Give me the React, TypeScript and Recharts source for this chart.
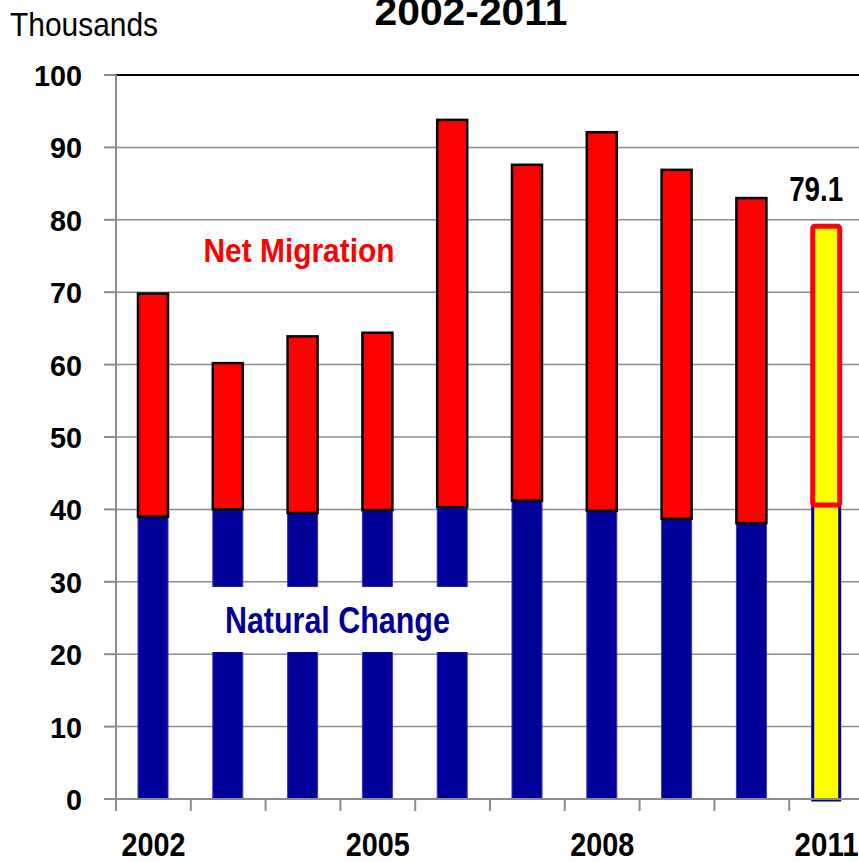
import React from 'react';
import {
  BarChart,
  Bar,
  XAxis,
  YAxis,
  CartesianGrid,
  ReferenceLine,
  ReferenceArea,
  LabelList,
} from 'recharts';

const years = ['2002', '2003', '2004', '2005', '2006', '2007', '2008', '2009', '2010', '2011'];
const naturalChange = [39.0, 40.0, 39.5, 39.9, 40.3, 41.2, 39.8, 38.7, 38.1, 40.6];
const totalGrowth = [69.8, 60.2, 63.9, 64.4, 93.8, 87.6, 92.1, 86.9, 83.0, 79.1];
const yTicks = [0, 10, 20, 30, 40, 50, 60, 70, 80, 90, 100];
const xTickLabels = ['2002', '2005', '2008', '2011'];
const titleText = '2002-2011';
const unitText = 'Thousands';
const migrationLabel = 'Net Migration';
const naturalLabel = 'Natural Change';

const data = years.map((year, i) => ({
  year,
  natural: naturalChange[i],
  migration: +(totalGrowth[i] - naturalChange[i]).toFixed(1),
  total: totalGrowth[i],
}));

const FONT = '"Liberation Sans", Arial, sans-serif';
const RED = '#FF0000';
const BLUE = '#000099';
const BLUE_EDGE = '#3333bb';
const YELLOW = '#FFFF00';
const GRID = '#8c8c8c';

const CHART_W = 880;
const CHART_H = 862;
const MARGIN = { top: 75, right: 16, bottom: 0, left: 0 };
const Y_AXIS_W = 116;
const X_AXIS_H = 63;
const PLOT_W = CHART_W - MARGIN.left - MARGIN.right - Y_AXIS_W;
const HALF_BAND = PLOT_W / years.length / 2;
const LAST = years.length - 1;

const YTick = (props: any) => {
  const { y, payload } = props;
  const s = String(payload.value);
  return (
    <text
      x={82}
      y={y + 11}
      textAnchor="end"
      fontFamily={FONT}
      fontWeight="bold"
      fontSize={29}
      fill="#000"
      textLength={s.length * 16}
      lengthAdjust="spacingAndGlyphs"
    >
      {s}
    </text>
  );
};

const XTick = (props: any) => {
  const { x, y, payload } = props;
  const s = String(payload.value);
  const show = xTickLabels.includes(s);
  return (
    <g>
      <line x1={x - HALF_BAND} x2={x - HALF_BAND} y1={y} y2={y + 12} stroke={GRID} strokeWidth={2} />
      {show && (
        <text
          x={x}
          y={y + 57}
          textAnchor="middle"
          fontFamily={FONT}
          fontWeight="bold"
          fontSize={33}
          fill="#000"
          textLength={64}
          lengthAdjust="spacingAndGlyphs"
        >
          {s}
        </text>
      )}
    </g>
  );
};

const NaturalShape = (props: any) => {
  const { x, y, width, height, index } = props;
  if (index === LAST) {
    return (
      <rect
        x={x + 1.5}
        y={y}
        width={width - 3}
        height={height + 1}
        fill={YELLOW}
        stroke={BLUE}
        strokeWidth={3}
      />
    );
  }
  return <rect x={x} y={y} width={width} height={height} fill={BLUE} stroke={BLUE_EDGE} strokeWidth={1} />;
};

const MigrationShape = (props: any) => {
  const { x, y, width, height, index } = props;
  if (index === LAST) {
    return (
      <rect
        x={x + 1.5}
        y={y}
        width={width - 3}
        height={height}
        rx={2}
        fill={YELLOW}
        stroke={RED}
        strokeWidth={5}
        strokeLinejoin="round"
      />
    );
  }
  return <rect x={x} y={y} width={width} height={height} fill={RED} stroke="#000" strokeWidth={2.5} />;
};

const NaturalBox = (props: any) => {
  const { x, y, width, height } = props;
  return (
    <g>
      <rect x={x} y={y} width={width} height={height} fill="#fff" />
      <text
        x={x + width / 2 - 3}
        y={y + 46}
        textAnchor="middle"
        fontFamily={FONT}
        fontWeight="bold"
        fontSize={36}
        fill={BLUE}
        textLength={225}
        lengthAdjust="spacingAndGlyphs"
      >
        {naturalLabel}
      </text>
    </g>
  );
};

const MigrationText = (props: any) => {
  const { x, y, width, height } = props;
  return (
    <text
      x={x + width / 2 - 4}
      y={y + height / 2 + 12}
      textAnchor="middle"
      fontFamily={FONT}
      fontWeight="bold"
      fontSize={33}
      fill={RED}
      textLength={191}
      lengthAdjust="spacingAndGlyphs"
    >
      {migrationLabel}
    </text>
  );
};

const TotalLabel = (props: any) => {
  const { x, y, width, index, value } = props;
  if (index !== LAST) return null;
  const s = Number(value).toFixed(1);
  return (
    <text
      x={x + width / 2 - 10}
      y={y - 25}
      textAnchor="middle"
      fontFamily={FONT}
      fontWeight="bold"
      fontSize={35}
      fill="#000"
      textLength={54}
      lengthAdjust="spacingAndGlyphs"
    >
      {s}
    </text>
  );
};

export default function App() {
  return (
    <div
      style={{
        position: 'absolute',
        left: 0,
        top: 0,
        width: 859,
        height: 862,
        overflow: 'hidden',
        background: '#fff',
      }}
    >
      <BarChart width={CHART_W} height={CHART_H} data={data} margin={MARGIN} barSize={30}>
        <CartesianGrid vertical={false} stroke={GRID} strokeWidth={1.5} />
        <XAxis
          dataKey="year"
          interval={0}
          height={X_AXIS_H}
          axisLine={{ stroke: GRID, strokeWidth: 2 }}
          tickLine={false}
          tickSize={0}
          tickMargin={0}
          tick={<XTick />}
        />
        <YAxis
          width={Y_AXIS_W}
          domain={[0, 100]}
          ticks={yTicks}
          interval={0}
          axisLine={{ stroke: GRID, strokeWidth: 2 }}
          tickLine={{ stroke: GRID, strokeWidth: 2 }}
          tickSize={12}
          tick={<YTick />}
        />
        <ReferenceLine y={100} stroke="#000" strokeWidth={2} />
        <Bar dataKey="natural" stackId="a" fill={BLUE} shape={<NaturalShape />} isAnimationActive={false} />
        <Bar dataKey="migration" stackId="a" fill={RED} shape={<MigrationShape />} isAnimationActive={false}>
          <LabelList dataKey="total" content={<TotalLabel />} />
        </Bar>
        <ReferenceArea
          x1="2003"
          x2="2006"
          y1={20.3}
          y2={29.3}
          ifOverflow="visible"
          zIndex={1000}
          shape={<NaturalBox />}
        />
        <ReferenceArea
          x1="2003"
          x2="2005"
          y1={72}
          y2={79.6}
          ifOverflow="visible"
          zIndex={1000}
          shape={<MigrationText />}
        />
      </BarChart>
      <svg
        width={859}
        height={862}
        style={{ position: 'absolute', left: 0, top: 0, pointerEvents: 'none' }}
      >
        <text x={10} y={36} fontFamily={FONT} fontSize={34} fill="#000" textLength={148} lengthAdjust="spacingAndGlyphs">
          {unitText}
        </text>
        <text
          x={471}
          y={25}
          textAnchor="middle"
          fontFamily={FONT}
          fontWeight="bold"
          fontSize={38}
          fill="#000"
          textLength={193}
          lengthAdjust="spacingAndGlyphs"
        >
          {titleText}
        </text>
      </svg>
    </div>
  );
}
